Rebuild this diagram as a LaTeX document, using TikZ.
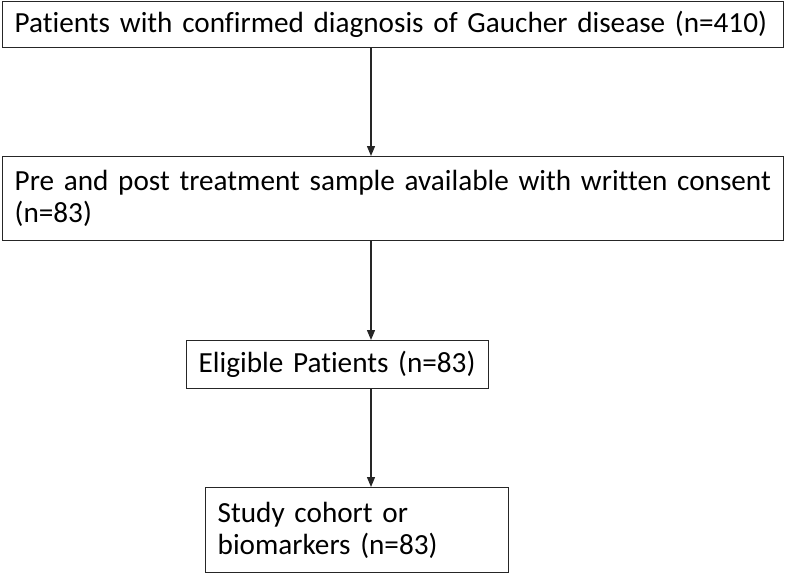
\documentclass[tikz,border=0pt]{standalone}
\usepackage{fontspec}
\setmainfont[Ligatures=NoCommon]{Carlito}
\usetikzlibrary{arrows.meta,positioning,calc}
\tikzset{
  >={Triangle[length=10pt,width=8pt]},
  line/.style={line width=1.3pt,draw=black!85},
  box/.style={draw=black!85,line width=1.4pt,anchor=north west,inner xsep=12pt,inner ysep=0pt,
    font=\fontsize{29.2}{32}\selectfont,align=left},
}

\begin{document}
\begin{tikzpicture}[x=1pt,y=-1pt]
  \useasboundingbox (0,0) rectangle (785,573);

  % Boxes of the flow
  \node[box,minimum width=781pt,minimum height=46pt,text width=757pt] (all) at (2,1)
    {Patients with confirmed diagnosis of Gaucher disease (n=410)};
  \node[box,minimum width=781pt,minimum height=84pt,text width=757pt] (sample) at (2,156)
    {Pre and post treatment sample available with written consent\\(n=83)};
  \node[box,minimum width=302pt,minimum height=48pt,text width=278pt] (elig) at (186,340)
    {Eligible Patients (n=83)};
  \node[box,minimum width=303pt,minimum height=85pt,text width=279pt] (cohort) at (205,487)
    {Study cohort or\\biomarkers (n=83)};

  % Arrows down the middle
  \coordinate (axis) at (371,0);
  \draw[line,->] (all.south -| axis) -- (sample.north -| axis);
  \draw[line,->] (sample.south -| axis) -- (elig.north -| axis);
  \draw[line,->] (elig.south -| axis) -- (cohort.north -| axis);
\end{tikzpicture}
\end{document}
